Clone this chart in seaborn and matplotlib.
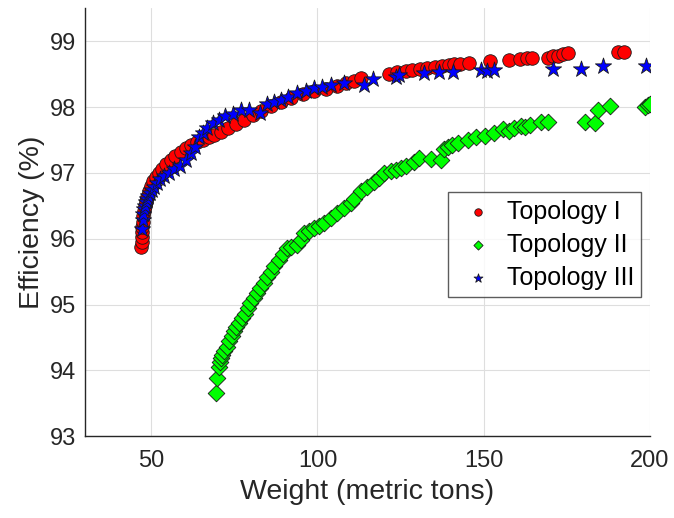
import matplotlib
matplotlib.use("Agg")
import matplotlib.pyplot as plt
import seaborn as sns
import pandas as pd

# Topology I: weight (metric tons) vs efficiency (%)
topo1_weight = [47.0, 47.1, 47.1, 47.2, 47.3, 47.4, 47.5, 47.7, 48.0, 48.3,
                48.7, 49.2, 49.8, 50.5, 51.3, 52.2, 53.2, 54.5, 55.8, 57.2,
                58.8, 60.4, 62.0, 63.8, 65.5, 67.3, 69.0, 71.0, 73.0, 75.5,
                78.0, 80.5, 83.0, 86.0, 89.0, 92.0, 95.5, 99.0, 102.5, 106.0,
                108.5, 111.0, 113.0, 121.5, 124.0, 126.5, 128.5, 131.0, 133.0, 135.5,
                137.5, 139.5, 141.0, 143.0, 145.5, 152.0, 157.5, 161.0, 163.0, 164.5,
                169.5, 171.0, 172.5, 174.0, 175.5, 190.5, 192.3]
topo1_eff = [95.88, 95.95, 96.03, 96.10, 96.18, 96.26, 96.34, 96.42, 96.49, 96.57,
             96.64, 96.72, 96.80, 96.87, 96.94, 97.00, 97.06, 97.13, 97.20, 97.25,
             97.32, 97.38, 97.42, 97.47, 97.50, 97.54, 97.58, 97.62, 97.68, 97.74,
             97.80, 97.88, 97.94, 98.02, 98.08, 98.14, 98.20, 98.25, 98.28, 98.32,
             98.36, 98.39, 98.44, 98.50, 98.53, 98.55, 98.57, 98.58, 98.60, 98.61,
             98.62, 98.64, 98.65, 98.66, 98.67, 98.70, 98.72, 98.73, 98.75, 98.75,
             98.75, 98.77, 98.78, 98.80, 98.82, 98.83, 98.83]

# Topology II
topo2_weight = [69.6, 69.8, 70.3, 70.6, 71.0, 71.3, 72.0, 72.8, 73.5, 74.2,
                74.8, 75.6, 76.4, 77.3, 78.2, 79.0, 79.8, 80.8, 81.8, 82.8,
                83.8, 84.8, 85.9, 87.0, 88.4, 89.5, 90.9, 92.0, 93.9, 95.0,
                95.9, 97.5, 98.9, 100.5, 102.0, 104.0, 106.0, 108.0, 110.0, 111.0,
                113.0, 115.0, 117.0, 118.5, 120.1, 122.0, 123.6, 125.0, 126.6, 129.1,
                130.5, 134.2, 137.2, 138.0, 139.2, 140.5, 142.2, 145.2, 147.8, 150.3,
                153.1, 155.8, 157.5, 159.2, 161.3, 162.5, 163.9, 167.4, 169.4, 180.5,
                183.5, 184.5, 188.0, 198.6, 199.5, 200.0]
topo2_eff = [93.66, 93.88, 94.05, 94.12, 94.18, 94.23, 94.30, 94.36, 94.44, 94.52,
             94.59, 94.66, 94.72, 94.79, 94.86, 94.94, 95.02, 95.10, 95.17, 95.25,
             95.33, 95.42, 95.50, 95.58, 95.68, 95.76, 95.86, 95.88, 95.91, 95.98,
             96.08, 96.12, 96.16, 96.20, 96.24, 96.32, 96.39, 96.46, 96.54, 96.60,
             96.72, 96.79, 96.86, 96.92, 97.00, 97.03, 97.05, 97.08, 97.11, 97.17,
             97.22, 97.21, 97.19, 97.36, 97.40, 97.43, 97.46, 97.50, 97.54, 97.56,
             97.61, 97.67, 97.64, 97.68, 97.71, 97.70, 97.73, 97.77, 97.77, 97.77,
             97.75, 97.96, 98.01, 98.00, 98.03, 98.05]

# Topology III
topo3_weight = [47.3, 47.5, 47.6, 47.8, 48.0, 48.3, 48.6, 49.0, 49.5, 50.1,
                50.8, 51.6, 52.6, 53.8, 55.2, 56.8, 58.7, 60.5, 62.0, 63.2,
                64.2, 65.5, 66.7, 68.5, 70.5, 72.3, 74.5, 77.0, 79.5, 82.8,
                84.9, 86.8, 88.9, 91.0, 93.9, 96.5, 98.9, 101.5, 104.0, 108.0,
                114.0, 116.6, 123.6, 124.5, 132.0, 136.6, 140.7, 149.3, 151.0, 153.2,
                170.9, 179.3, 186.0, 199.0]
topo3_eff = [96.15, 96.29, 96.38, 96.45, 96.49, 96.55, 96.60, 96.65, 96.69, 96.74,
             96.79, 96.84, 96.90, 96.95, 97.00, 97.06, 97.10, 97.20, 97.30, 97.40,
             97.55, 97.60, 97.68, 97.75, 97.80, 97.86, 97.90, 97.95, 97.96, 97.91,
             98.04, 98.08, 98.11, 98.15, 98.21, 98.25, 98.29, 98.31, 98.34, 98.36,
             98.34, 98.42, 98.46, 98.48, 98.52, 98.53, 98.53, 98.57, 98.55, 98.57,
             98.58, 98.58, 98.62, 98.63]

series_names = ["Topology I", "Topology II", "Topology III"]
x_ticks = [50, 100, 150, 200]
y_ticks = [93, 94, 95, 96, 97, 98, 99]

sns.set_theme(style="white")
plt.rcParams["font.family"] = ["Liberation Sans", "DejaVu Sans"]
text_color = "#262626"

fig = plt.figure(figsize=(6.74, 5.18), dpi=100)
ax = fig.add_axes([0.126, 0.158, 0.838, 0.826])

frames = [
    pd.DataFrame({"Weight": topo1_weight, "Efficiency": topo1_eff}),
    pd.DataFrame({"Weight": topo2_weight, "Efficiency": topo2_eff}),
    pd.DataFrame({"Weight": topo3_weight, "Efficiency": topo3_eff}),
]
styles = [
    dict(marker="o", color="#ff0000", s=95),
    dict(marker="D", color="#00ff00", s=72),
    dict(marker="*", color="#0000ff", s=150),
]
for df, name, st in zip(frames, series_names, styles):
    sns.scatterplot(data=df, x="Weight", y="Efficiency", ax=ax, label=name,
                    marker=st["marker"], color=st["color"], s=st["s"],
                    edgecolor="#1a1a1a", linewidth=0.6, zorder=3)

ax.set_xlim(30, 200)
ax.set_ylim(93, 99.5)
ax.set_xticks(x_ticks)
ax.set_yticks(y_ticks)
ax.grid(True, color="#dedede", linewidth=0.8)
ax.set_axisbelow(True)

for side in ("top", "right"):
    ax.spines[side].set_visible(False)
for side in ("left", "bottom"):
    ax.spines[side].set_color(text_color)
    ax.spines[side].set_linewidth(1.0)

ax.tick_params(axis="both", direction="in", length=6, width=0.8,
               colors=text_color, labelsize=17, labelcolor=text_color)
ax.tick_params(axis="x", pad=10)
ax.tick_params(axis="y", pad=6)
ax.set_xlabel("Weight (metric tons)", fontsize=20.5, color=text_color, labelpad=5)
ax.set_ylabel("Efficiency (%)", fontsize=20.5, color=text_color, labelpad=4)

leg = ax.legend(loc="upper left", bbox_to_anchor=(0.6425, 0.570), borderaxespad=0,
                fontsize=18, frameon=True, fancybox=False, markerscale=0.55,
                handletextpad=0.2, borderpad=0.3, labelspacing=0.36,
                handlelength=1.85)
leg.get_frame().set_edgecolor("#333333")
leg.get_frame().set_linewidth(1.0)
for t in leg.get_texts():
    t.set_color("#000000")

fig.savefig("out.png", dpi=100)
